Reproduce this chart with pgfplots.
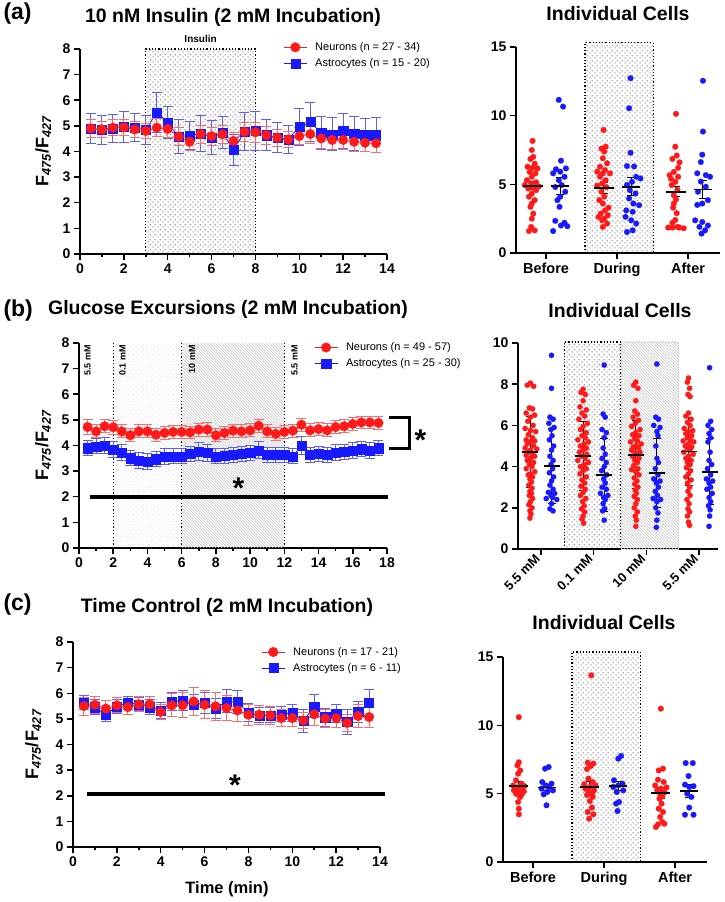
\documentclass[border=0pt]{standalone}
\usepackage{fontspec}
\setmainfont{Liberation Sans}
\usepackage{pgfplots}
\pgfplotsset{compat=1.18}
\usetikzlibrary{patterns}

\definecolor{nred}{RGB}{255,25,25}
\definecolor{ablue}{RGB}{25,25,255}

% staggered dot pattern, a bit sparser than crosshatch dots
\pgfdeclarepatternformonly{sdots}{\pgfqpoint{0pt}{0pt}}{\pgfqpoint{4.6pt}{4.6pt}}{\pgfqpoint{4.6pt}{4.6pt}}{
  \pgfpathcircle{\pgfqpoint{1.15pt}{1.15pt}}{0.6pt}
  \pgfpathcircle{\pgfqpoint{3.45pt}{3.45pt}}{0.6pt}
  \pgfusepath{fill}}

\pgfplotsset{
  panel/.style={scale only axis, clip=false, axis lines=left,
    axis line style={line width=1.8pt,-}, tick style={line width=1.5pt,black},
    major tick length=6pt, minor tick length=3.5pt, tick align=outside,
    /pgf/number format/assume math mode=true,
    tick label style={font=\bfseries\fontsize{14}{14}\selectfont}},
  timeax/.style={panel, ymin=0, ymax=8, ytick={0,...,8}, minor x tick num=1,
    ylabel={F\textsubscript{\itshape 475}/F\textsubscript{\itshape 427}},
    ylabel style={font=\bfseries\fontsize{18}{18}\selectfont, anchor=center},
    legend cell align=left, reverse legend,
    legend style={draw=none, fill=none, anchor=north west, inner sep=0pt,
      font=\fontsize{11}{12}\selectfont, row sep=2.5pt, column sep=6pt},
    legend image code/.code={\draw[mark repeat=2,mark phase=2,##1] plot coordinates {(0pt,0pt) (11.5pt,0pt) (23pt,0pt)};}},
  cellax/.style={panel, xmin=0.577, xmax=3.45, ymin=0, ymax=15, ytick={0,5,10,15},
    xtick={1,2,3}, xticklabels={Before,During,After},
    xticklabel style={font=\bfseries\fontsize{14.5}{14.5}\selectfont}},
  neur/.style={nred, line width=0.8pt, mark=*, mark size=4.8pt,
    mark options={solid, fill=nred, draw=nred, line width=0.3pt},
    error bars/.cd, y dir=both, y explicit, error bar style={line width=1pt, nred!65},
    error mark options={rotate=90, line width=1pt, nred!65, mark size=5pt}},
  astr/.style={ablue, line width=0.8pt, mark=square*, mark size=4.6pt,
    mark options={solid, fill=ablue, draw=ablue, line width=0.3pt},
    error bars/.cd, y dir=both, y explicit, error bar style={line width=1pt, ablue!70},
    error mark options={rotate=90, line width=1pt, ablue!70, mark size=5pt}},
  rdots/.style={only marks, mark=*, mark size=2.9pt, mark options={fill=nred, draw=nred, line width=0.1pt}},
  bdots/.style={only marks, mark=*, mark size=2.9pt, mark options={fill=ablue, draw=ablue, line width=0.1pt}},
  meanbar/.style={only marks, mark=-, mark size=#1, mark options={black, line width=1.8pt},
    error bars/.cd, y dir=both, y explicit, error bar style={line width=1pt, black},
    error mark options={rotate=90, black, line width=1pt, mark size=4pt}},
}

\begin{document}
\begin{tikzpicture}
\path[use as bounding box] (0pt,0pt) rectangle (725pt,902pt);

% ---------- titles ----------
\node[anchor=west, font=\bfseries\fontsize{23}{23}\selectfont] at (0pt,888pt) {(a)};
\node[anchor=base, font=\bfseries\fontsize{19.5}{19.5}\selectfont] at (233pt,879pt) {10 nM Insulin (2 mM Incubation)};
\node[anchor=base, font=\bfseries\fontsize{19.5}{19.5}\selectfont] at (618pt,881pt) {Individual Cells};
\node[anchor=west, font=\bfseries\fontsize{23}{23}\selectfont] at (0pt,591pt) {(b)};
\node[anchor=base, font=\bfseries\fontsize{19.5}{19.5}\selectfont] at (228pt,587pt) {Glucose Excursions (2 mM Incubation)};
\node[anchor=base, font=\bfseries\fontsize{19.5}{19.5}\selectfont] at (620pt,584pt) {Individual Cells};
\node[anchor=west, font=\bfseries\fontsize{23}{23}\selectfont] at (0pt,297pt) {(c)};
\node[anchor=base, font=\bfseries\fontsize{19.5}{19.5}\selectfont] at (227pt,289pt) {Time Control (2 mM Incubation)};
\node[anchor=base, font=\bfseries\fontsize{19.5}{19.5}\selectfont] at (604pt,272pt) {Individual Cells};
\node[anchor=base, font=\bfseries\fontsize{16.5}{16.5}\selectfont] at (227pt,9pt) {Time (min)};

% ---------- (a) time course ----------
\begin{axis}[timeax, at={(80pt,648pt)}, anchor=south west, width=307pt, height=205pt,
  xmin=0, xmax=14, xtick={0,2,...,14},
  ylabel style={at={(axis description cs:-0.12,0.5)}},
  legend style={at={(axis description cs:0.662,1.042)}}]
\fill[pattern=sdots, pattern color=black!85] (axis cs:3,0) rectangle (axis cs:8,8);
\draw[line width=1.2pt, dash pattern=on 1.2pt off 2pt] (axis cs:3,0) rectangle (axis cs:8,8);
\node[anchor=base, font=\bfseries\fontsize{10}{10}\selectfont] at (axis cs:5.5,8.27) {Insulin};
\addplot[astr] coordinates {
 (0.5,4.90) +- (0,0.60) (1.0,4.84) +- (0,0.58) (1.5,4.90) +- (0,0.55) (2.0,4.97) +- (0,0.60)
 (2.5,4.93) +- (0,0.55) (3.0,4.84) +- (0,0.58) (3.5,5.53) +- (0,0.78) (4.0,5.12) +- (0,0.62)
 (4.5,4.58) +- (0,0.65) (5.0,4.62) +- (0,0.55) (5.5,4.71) +- (0,0.70) (6.0,4.55) +- (0,0.65)
 (6.5,4.73) +- (0,0.62) (7.0,4.06) +- (0,0.60) (7.5,4.77) +- (0,0.75) (8.0,4.80) +- (0,0.75)
 (8.5,4.64) +- (0,0.62) (9.0,4.55) +- (0,0.60) (9.5,4.47) +- (0,0.55) (10.0,4.97) +- (0,0.72)
 (10.5,5.15) +- (0,0.77) (11.0,4.73) +- (0,0.65) (11.5,4.67) +- (0,0.65) (12.0,4.80) +- (0,0.70)
 (12.5,4.71) +- (0,0.67) (13.0,4.64) +- (0,0.65) (13.5,4.64) +- (0,0.68)};
\addlegendentry{Astrocytes (n = 15 - 20)}
\addplot[neur] coordinates {
 (0.5,4.90) +- (0,0.35) (1.0,4.86) +- (0,0.30) (1.5,4.93) +- (0,0.30) (2.0,4.94) +- (0,0.30)
 (2.5,4.86) +- (0,0.30) (3.0,4.80) +- (0,0.30) (3.5,4.93) +- (0,0.35) (4.0,4.88) +- (0,0.35)
 (4.5,4.58) +- (0,0.35) (5.0,4.38) +- (0,0.33) (5.5,4.68) +- (0,0.35) (6.0,4.60) +- (0,0.35)
 (6.5,4.67) +- (0,0.35) (7.0,4.41) +- (0,0.35) (7.5,4.77) +- (0,0.38) (8.0,4.75) +- (0,0.38)
 (8.5,4.64) +- (0,0.35) (9.0,4.54) +- (0,0.33) (9.5,4.47) +- (0,0.30) (10.0,4.60) +- (0,0.33)
 (10.5,4.68) +- (0,0.35) (11.0,4.51) +- (0,0.38) (11.5,4.45) +- (0,0.38) (12.0,4.45) +- (0,0.38)
 (12.5,4.38) +- (0,0.38) (13.0,4.34) +- (0,0.35) (13.5,4.32) +- (0,0.36)};
\addlegendentry{Neurons (n = 27 - 34)}
\end{axis}

% ---------- (a) individual cells ----------
\begin{axis}[cellax, at={(516pt,649pt)}, anchor=south west, width=204pt, height=206pt]
\fill[pattern=sdots, pattern color=black!85] (axis cs:1.55,0) rectangle (axis cs:2.51,15.3);
\draw[line width=1.2pt, dash pattern=on 1.2pt off 2pt] (axis cs:1.55,0) rectangle (axis cs:2.51,15.3);
\addplot[rdots] coordinates {
 (0.81,8.16)(0.80,7.50)(0.82,7.00)(0.78,6.85)(0.84,6.50)(0.74,6.28)(0.81,6.20)(0.88,6.15)
 (0.77,5.90)(0.85,5.80)(0.80,5.55)(0.73,5.30)(0.86,5.15)(0.79,5.06)(0.70,4.95)(0.90,4.85)
 (0.82,4.80)(0.75,4.70)(0.86,4.58)(0.80,4.33)(0.76,4.10)(0.84,3.85)(0.80,3.60)(0.78,3.36)
 (0.82,2.87)(0.80,2.50)(0.79,1.90)(0.84,1.65)(0.76,1.60)
 (1.81,8.96)(1.84,7.74)(1.78,7.60)(1.82,7.38)(1.80,6.90)(1.86,6.53)(1.76,6.28)(1.83,6.04)
 (1.72,5.92)(1.90,5.80)(1.80,5.80)(1.76,5.55)(1.84,5.30)(1.79,5.06)(1.72,4.90)(1.85,4.80)
 (1.78,4.46)(1.82,4.10)(1.75,3.85)(1.80,3.60)(1.88,3.30)(1.83,3.10)(1.77,2.87)(1.87,2.75)
 (1.74,2.63)(1.82,2.50)(1.79,2.38)(1.86,2.14)(1.80,1.90)
 (2.83,10.13)(2.82,7.74)(2.84,7.10)(2.78,6.85)(2.88,6.60)(2.86,6.20)(2.80,5.90)(2.74,5.67)
 (2.86,5.55)(2.76,5.40)(2.82,5.18)(2.77,4.95)(2.85,4.60)(2.80,4.20)(2.83,3.90)(2.80,3.60)
 (2.79,3.30)(2.84,2.90)(2.82,2.40)(2.78,2.20)(2.85,1.90)(2.72,1.85)(2.78,1.85)(2.88,1.85)(2.94,1.80)};
\addplot[bdots] coordinates {
 (1.18,11.15)(1.24,10.66)(1.21,6.72)(1.28,6.16)(1.14,6.10)(1.20,5.92)(1.10,5.80)(1.26,5.55)
 (1.18,5.30)(1.22,4.95)(1.13,4.80)(1.27,4.46)(1.20,4.10)(1.16,3.85)(1.19,3.36)(1.13,2.34)
 (1.26,2.20)(1.21,2.00)(1.30,1.95)(1.10,1.60)
 (2.19,12.73)(2.17,10.54)(2.19,7.30)(2.14,6.33)(2.24,6.30)(2.27,5.55)(2.33,5.43)(2.21,5.18)
 (2.14,4.95)(2.18,4.58)(2.26,4.33)(2.17,3.97)(2.23,3.60)(2.31,3.48)(2.13,3.10)(2.22,3.00)
 (2.12,2.63)(2.20,2.38)(2.27,2.14)(2.22,1.65)(2.14,1.53)
 (3.21,12.54)(3.21,8.84)(3.20,7.16)(3.18,6.62)(3.13,5.80)(3.25,5.67)(3.31,5.55)(3.18,5.20)
 (3.25,4.82)(3.14,4.46)(3.28,3.85)(3.20,3.60)(3.13,3.50)(3.10,2.38)(3.20,2.26)(3.28,2.00)
 (3.16,1.90)(3.24,1.65)(3.19,1.41)};
\addplot[meanbar=10pt] coordinates {(0.81,4.89) +- (0,0.30) (1.81,4.75) +- (0,0.40) (2.83,4.46) +- (0,0.38)};
\addplot[meanbar=9pt] coordinates {(1.20,4.89) +- (0,0.60) (2.20,4.82) +- (0,0.65) (3.21,4.63) +- (0,0.68)};
\end{axis}

% ---------- (b) time course ----------
\begin{axis}[timeax, at={(79pt,354pt)}, anchor=south west, width=308pt, height=205pt,
  xmin=0, xmax=18, xtick={0,2,...,18},
  ylabel style={at={(axis description cs:-0.117,0.5)}},
  legend style={at={(axis description cs:0.763,1.012)}}]
\fill[pattern=sdots, pattern color=gray!45] (axis cs:2,0) rectangle (axis cs:6,8);
\fill[pattern=north west lines, pattern color=gray!45] (axis cs:6,0) rectangle (axis cs:12,8);
\draw[line width=1.2pt, dash pattern=on 1.2pt off 2.2pt] (axis cs:2,0) -- (axis cs:2,8);
\draw[line width=1.2pt, dash pattern=on 1.2pt off 2.2pt] (axis cs:6,0) -- (axis cs:6,8);
\draw[line width=1.2pt, dash pattern=on 1.2pt off 2.2pt] (axis cs:12,0) -- (axis cs:12,8);
\node[rotate=90, anchor=east, font=\bfseries\fontsize{9}{9}\selectfont] at (axis cs:0.5,8.05) {5.5 mM};
\node[rotate=90, anchor=east, font=\bfseries\fontsize{9}{9}\selectfont] at (axis cs:2.55,8.05) {0.1 mM};
\node[rotate=90, anchor=east, font=\bfseries\fontsize{9}{9}\selectfont] at (axis cs:6.6,8.05) {10 mM};
\node[rotate=90, anchor=east, font=\bfseries\fontsize{9}{9}\selectfont] at (axis cs:12.6,8.05) {5.5 mM};
\draw[line width=4pt] (axis cs:0.64,2) -- (axis cs:18.05,2);
\node[anchor=base, yshift=-17pt, font=\bfseries\fontsize{30}{30}\selectfont] at (axis cs:9.32,2.6) {*};
\draw[line width=2.8pt] (axis cs:18.1,5.08) -- (axis cs:19.3,5.08) -- (axis cs:19.3,3.87) -- (axis cs:18.1,3.87);
\node[anchor=base, yshift=-17pt, font=\bfseries\fontsize{30}{30}\selectfont] at (axis cs:19.95,4.45) {*};
\addplot[astr] coordinates {
 (0.5,3.90) +- (0,0.30) (1.0,3.97) +- (0,0.30) (1.5,3.99) +- (0,0.32) (2.0,3.84) +- (0,0.30)
 (2.5,3.73) +- (0,0.30) (3.0,3.51) +- (0,0.30) (3.5,3.42) +- (0,0.30) (4.0,3.38) +- (0,0.30)
 (4.5,3.47) +- (0,0.30) (5.0,3.58) +- (0,0.32) (5.5,3.58) +- (0,0.30) (6.0,3.58) +- (0,0.30)
 (6.5,3.67) +- (0,0.30) (7.0,3.77) +- (0,0.35) (7.5,3.71) +- (0,0.32) (8.0,3.58) +- (0,0.30)
 (8.5,3.60) +- (0,0.30) (9.0,3.64) +- (0,0.30) (9.5,3.68) +- (0,0.30) (10.0,3.71) +- (0,0.30)
 (10.5,3.81) +- (0,0.33) (11.0,3.64) +- (0,0.30) (11.5,3.64) +- (0,0.30) (12.0,3.64) +- (0,0.30)
 (12.5,3.58) +- (0,0.30) (13.0,3.99) +- (0,0.35) (13.5,3.64) +- (0,0.30) (14.0,3.68) +- (0,0.30)
 (14.5,3.64) +- (0,0.30) (15.0,3.73) +- (0,0.30) (15.5,3.75) +- (0,0.30) (16.0,3.81) +- (0,0.30)
 (16.5,3.86) +- (0,0.30) (17.0,3.81) +- (0,0.30) (17.5,3.90) +- (0,0.30)};
\addlegendentry{Astrocytes (n = 25 - 30)}
\addplot[neur] coordinates {
 (0.5,4.72) +- (0,0.28) (1.0,4.55) +- (0,0.25) (1.5,4.75) +- (0,0.25) (2.0,4.71) +- (0,0.27)
 (2.5,4.55) +- (0,0.25) (3.0,4.40) +- (0,0.25) (3.5,4.55) +- (0,0.25) (4.0,4.55) +- (0,0.25)
 (4.5,4.42) +- (0,0.25) (5.0,4.49) +- (0,0.25) (5.5,4.53) +- (0,0.25) (6.0,4.53) +- (0,0.25)
 (6.5,4.51) +- (0,0.25) (7.0,4.62) +- (0,0.25) (7.5,4.62) +- (0,0.27) (8.0,4.40) +- (0,0.25)
 (8.5,4.49) +- (0,0.25) (9.0,4.58) +- (0,0.25) (9.5,4.55) +- (0,0.25) (10.0,4.59) +- (0,0.25)
 (10.5,4.77) +- (0,0.25) (11.0,4.55) +- (0,0.25) (11.5,4.45) +- (0,0.25) (12.0,4.53) +- (0,0.25)
 (12.5,4.58) +- (0,0.25) (13.0,4.81) +- (0,0.25) (13.5,4.59) +- (0,0.25) (14.0,4.64) +- (0,0.25)
 (14.5,4.59) +- (0,0.25) (15.0,4.72) +- (0,0.25) (15.5,4.75) +- (0,0.25) (16.0,4.84) +- (0,0.25)
 (16.5,4.90) +- (0,0.25) (17.0,4.90) +- (0,0.25) (17.5,4.88) +- (0,0.25)};
\addlegendentry{Neurons (n = 49 - 57)}
\end{axis}

% ---------- (b) individual cells ----------
\begin{axis}[panel, at={(518pt,353pt)}, anchor=south west, width=200pt, height=206pt,
  xmin=0.564, xmax=4.36, ymin=0, ymax=10, ytick={0,2,...,10},
  xtick={1,2,3,4}, xticklabels={5.5 mM,0.1 mM,10 mM,5.5 mM},
  xticklabel style={rotate=45, anchor=east, yshift=1pt,
    font=\bfseries\fontsize{13}{13}\selectfont}]
\fill[pattern=sdots, pattern color=black!85] (axis cs:1.44,0) rectangle (axis cs:2.52,10.05);
\draw[line width=1.2pt, dash pattern=on 1.2pt off 2pt] (axis cs:1.44,0) rectangle (axis cs:2.52,10.05);
\fill[pattern=north west lines, pattern color=gray!45] (axis cs:2.52,0) rectangle (axis cs:3.6,10.05);
\draw[gray!30, line width=0.8pt] (axis cs:2.52,0) rectangle (axis cs:3.6,10.05);
\addplot[rdots, mark size=2.7pt] coordinates {
 (0.80,8.05)(0.74,7.95)(0.86,7.90)(0.78,6.85)(0.84,6.80)(0.72,6.60)(0.88,6.50)(0.80,6.40)
 (0.75,6.20)(0.85,6.00)(0.70,5.85)(0.80,5.75)(0.90,5.70)(0.76,5.55)(0.84,5.40)(0.72,5.30)
 (0.88,5.25)(0.80,5.20)(0.74,5.10)(0.86,5.00)(0.70,4.90)(0.92,4.85)(0.80,4.80)(0.76,4.70)
 (0.84,4.60)(0.72,4.55)(0.88,4.50)(0.80,4.40)(0.74,4.30)(0.86,4.20)(0.78,4.10)(0.83,4.00)
 (0.72,3.90)(0.88,3.75)(0.80,3.65)(0.76,3.60)(0.84,3.50)(0.79,3.40)(0.82,3.25)(0.77,3.10)
 (0.83,2.95)(0.79,2.80)(0.82,2.70)(0.78,2.60)(0.84,2.45)(0.80,2.30)(0.77,2.15)(0.83,2.00)
 (0.79,1.85)(0.81,1.70)(0.79,1.50)
 (1.80,7.75)(1.76,7.60)(1.84,7.50)(1.80,7.20)(1.74,6.90)(1.86,6.75)(1.78,6.60)(1.83,6.45)
 (1.72,6.30)(1.88,6.10)(1.80,5.95)(1.75,5.80)(1.86,5.65)(1.78,5.50)(1.84,5.40)(1.70,5.30)
 (1.90,5.20)(1.82,5.10)(1.75,5.00)(1.86,4.90)(1.80,4.80)(1.73,4.70)(1.87,4.60)(1.77,4.50)
 (1.84,4.40)(1.70,4.30)(1.90,4.20)(1.82,4.10)(1.75,4.00)(1.86,3.90)(1.80,3.80)(1.74,3.65)
 (1.86,3.50)(1.78,3.35)(1.83,3.20)(1.76,3.05)(1.84,2.90)(1.80,2.75)(1.75,2.60)(1.85,2.45)
 (1.79,2.30)(1.82,2.10)(1.77,1.95)(1.83,1.80)(1.80,1.60)(1.78,1.45)(1.81,1.25)
 (2.80,8.10)(2.76,7.95)(2.84,7.80)(2.80,7.20)(2.78,6.70)(2.83,6.55)(2.75,6.40)(2.85,6.25)
 (2.79,6.10)(2.72,5.95)(2.88,5.80)(2.80,5.65)(2.74,5.55)(2.86,5.50)(2.78,5.35)(2.83,5.25)
 (2.70,5.20)(2.90,5.10)(2.80,5.00)(2.75,4.95)(2.85,4.90)(2.72,4.80)(2.88,4.70)(2.79,4.65)
 (2.83,4.60)(2.74,4.50)(2.86,4.40)(2.78,4.30)(2.83,4.20)(2.76,4.05)(2.84,3.90)(2.72,3.85)
 (2.80,3.75)(2.86,3.60)(2.77,3.45)(2.82,3.30)(2.78,3.15)(2.84,3.00)(2.79,2.85)(2.81,2.70)
 (2.77,2.55)(2.83,2.40)(2.80,2.20)(2.77,2.00)(2.83,1.80)(2.79,1.60)(2.81,1.40)(2.80,1.10)
 (3.80,8.30)(3.78,8.10)(3.82,7.80)(3.79,7.50)(3.83,7.40)(3.80,6.60)(3.75,6.45)(3.85,6.30)
 (3.78,6.15)(3.83,6.00)(3.72,5.85)(3.88,5.75)(3.80,5.70)(3.75,5.60)(3.86,5.50)(3.78,5.40)
 (3.83,5.30)(3.70,5.25)(3.90,5.20)(3.80,5.10)(3.74,5.00)(3.86,4.95)(3.78,4.90)(3.83,4.80)
 (3.71,4.70)(3.89,4.60)(3.80,4.50)(3.75,4.40)(3.85,4.30)(3.78,4.20)(3.83,4.10)(3.76,3.95)
 (3.84,3.80)(3.80,3.65)(3.75,3.50)(3.85,3.35)(3.78,3.20)(3.82,3.00)(3.79,2.80)(3.83,2.60)
 (3.77,2.40)(3.81,2.20)(3.79,1.95)(3.82,1.80)(3.78,1.60)(3.80,1.30)(3.82,1.15)};
\addplot[bdots, mark size=2.7pt] coordinates {
 (1.20,9.40)(1.20,7.80)(1.17,6.40)(1.23,6.30)(1.15,6.10)(1.25,5.90)(1.19,5.80)(1.21,5.50)
 (1.16,5.30)(1.24,5.00)(1.20,4.80)(1.17,4.50)(1.23,4.30)(1.19,4.10)(1.22,3.90)(1.16,3.70)
 (1.24,3.50)(1.20,3.30)(1.17,3.10)(1.23,2.90)(1.14,2.75)(1.26,2.70)(1.19,2.60)(1.22,2.50)
 (1.10,2.45)(1.30,2.40)(1.20,2.20)(1.17,1.95)(1.23,1.85)
 (2.20,8.93)(2.18,6.55)(2.22,6.40)(2.16,5.80)(2.24,5.65)(2.20,5.40)(2.18,4.90)(2.22,4.60)
 (2.16,4.40)(2.24,4.20)(2.20,4.00)(2.15,3.80)(2.25,3.60)(2.19,3.40)(2.22,3.20)(2.16,3.00)
 (2.24,2.90)(2.13,2.70)(2.27,2.60)(2.19,2.50)(2.22,2.40)(2.18,2.20)(2.21,1.95)(2.17,1.85)(2.20,1.40)
 (3.20,8.98)(3.18,6.40)(3.23,6.30)(3.14,6.00)(3.26,5.90)(3.20,5.70)(3.22,5.50)(3.18,5.00)
 (3.20,4.40)(3.23,4.20)(3.17,3.90)(3.22,3.60)(3.14,3.40)(3.26,3.30)(3.19,3.20)(3.23,3.00)
 (3.17,2.80)(3.21,2.60)(3.13,2.45)(3.27,2.40)(3.20,2.30)(3.18,2.00)(3.22,1.75)(3.20,1.40)(3.19,1.05)
 (4.20,8.80)(4.22,6.20)(4.17,6.00)(4.24,5.80)(4.19,5.60)(4.22,5.40)(4.17,5.20)(4.21,4.70)
 (4.19,4.30)(4.24,4.10)(4.16,3.90)(4.22,3.60)(4.14,3.40)(4.26,3.30)(4.19,3.20)(4.22,3.00)
 (4.15,2.90)(4.25,2.70)(4.19,2.50)(4.22,2.30)(4.18,2.10)(4.21,1.90)(4.20,1.60)(4.19,1.10)};
\addplot[meanbar=8pt] coordinates {(0.80,4.70) +- (0,1.72) (1.80,4.50) +- (0,1.68) (2.80,4.57) +- (0,1.65) (3.80,4.73) +- (0,1.67)};
\addplot[meanbar=8pt] coordinates {(1.20,4.03) +- (0,1.82) (2.20,3.58) +- (0,1.77) (3.20,3.68) +- (0,1.68) (4.20,3.75) +- (0,1.60)};
\end{axis}

% ---------- (c) time course ----------
\begin{axis}[timeax, at={(73pt,55pt)}, anchor=south west, width=307pt, height=205pt,
  xmin=0, xmax=14, xtick={0,2,...,14},
  ylabel style={at={(axis description cs:-0.13,0.5)}},
  legend style={at={(axis description cs:0.613,0.985)}}]
\draw[line width=4pt] (axis cs:0.64,2.08) -- (axis cs:14.23,2.08);
\node[anchor=base, yshift=-17pt, font=\bfseries\fontsize{30}{30}\selectfont] at (axis cs:7.39,2.67) {*};
\addplot[astr] coordinates {
 (0.5,5.63) +- (0,0.28) (1.0,5.46) +- (0,0.28) (1.5,5.16) +- (0,0.25) (2.0,5.49) +- (0,0.28)
 (2.5,5.63) +- (0,0.25) (3.0,5.57) +- (0,0.25) (3.5,5.46) +- (0,0.28) (4.0,5.33) +- (0,0.30)
 (4.5,5.66) +- (0,0.35) (5.0,5.72) +- (0,0.38) (5.5,5.55) +- (0,0.40) (6.0,5.62) +- (0,0.40)
 (6.5,5.40) +- (0,0.40) (7.0,5.68) +- (0,0.45) (7.5,5.66) +- (0,0.45) (8.0,5.24) +- (0,0.35)
 (8.5,5.14) +- (0,0.30) (9.0,5.14) +- (0,0.30) (9.5,5.18) +- (0,0.30) (10.0,5.23) +- (0,0.35)
 (10.5,4.92) +- (0,0.45) (11.0,5.49) +- (0,0.45) (11.5,5.07) +- (0,0.35) (12.0,5.20) +- (0,0.35)
 (12.5,4.88) +- (0,0.50) (13.0,5.27) +- (0,0.40) (13.5,5.63) +- (0,0.50)};
\addlegendentry{Astrocytes (n = 6 - 11)}
\addplot[neur] coordinates {
 (0.5,5.50) +- (0,0.35) (1.0,5.55) +- (0,0.33) (1.5,5.40) +- (0,0.30) (2.0,5.53) +- (0,0.30)
 (2.5,5.46) +- (0,0.30) (3.0,5.57) +- (0,0.30) (3.5,5.57) +- (0,0.30) (4.0,5.27) +- (0,0.30)
 (4.5,5.53) +- (0,0.45) (5.0,5.53) +- (0,0.48) (5.5,5.68) +- (0,0.55) (6.0,5.55) +- (0,0.55)
 (6.5,5.49) +- (0,0.55) (7.0,5.42) +- (0,0.50) (7.5,5.33) +- (0,0.45) (8.0,5.16) +- (0,0.40)
 (8.5,5.16) +- (0,0.38) (9.0,5.14) +- (0,0.35) (9.5,5.03) +- (0,0.33) (10.0,5.03) +- (0,0.33)
 (10.5,4.94) +- (0,0.30) (11.0,5.18) +- (0,0.45) (11.5,5.01) +- (0,0.35) (12.0,5.03) +- (0,0.35)
 (12.5,4.84) +- (0,0.35) (13.0,5.11) +- (0,0.45) (13.5,5.07) +- (0,0.40)};
\addlegendentry{Neurons (n = 17 - 21)}
\end{axis}

% ---------- (c) individual cells ----------
\begin{axis}[cellax, at={(503pt,40pt)}, anchor=south west, width=204pt, height=205pt]
\fill[pattern=sdots, pattern color=black!85] (axis cs:1.55,0) rectangle (axis cs:2.51,15.37);
\draw[line width=1.2pt, dash pattern=on 1.2pt off 2pt] (axis cs:1.55,0) rectangle (axis cs:2.51,15.37);
\addplot[rdots] coordinates {
 (0.80,10.60)(0.80,7.30)(0.78,7.07)(0.82,6.70)(0.79,6.46)(0.76,5.98)(0.84,5.73)(0.72,5.60)
 (0.88,5.55)(0.80,5.50)(0.75,5.37)(0.85,5.30)(0.73,5.24)(0.87,5.15)(0.80,5.12)(0.76,5.00)
 (0.84,4.95)(0.80,4.88)(0.82,4.76)(0.79,4.39)(0.80,3.90)(0.80,3.49)
 (1.82,13.66)(1.77,7.27)(1.85,7.20)(1.81,7.02)(1.76,6.80)(1.78,6.10)(1.84,5.85)(1.72,5.70)
 (1.88,5.60)(1.80,5.49)(1.74,5.35)(1.86,5.24)(1.79,5.12)(1.83,5.00)(1.76,4.90)(1.84,4.76)
 (1.80,4.46)(1.83,3.98)(1.77,3.66)(1.85,3.49)(1.79,3.17)
 (2.80,11.22)(2.83,6.83)(2.77,6.70)(2.76,6.02)(2.84,5.85)(2.72,5.60)(2.88,5.45)(2.80,5.37)
 (2.75,5.24)(2.85,5.10)(2.79,5.00)(2.82,4.80)(2.78,4.63)(2.81,4.27)(2.77,3.90)(2.83,3.66)
 (2.79,3.29)(2.82,2.93)(2.85,2.80)(2.76,2.75)(2.73,2.56)};
\addplot[bdots] coordinates {
 (1.22,6.95)(1.17,6.83)(1.13,5.85)(1.26,5.73)(1.18,5.60)(1.22,5.49)(1.12,5.37)(1.28,5.24)
 (1.20,5.12)(1.15,4.95)(1.19,4.15)
 (2.24,7.76)(2.20,7.56)(2.14,5.98)(2.26,5.73)(2.20,5.60)(2.13,5.49)(2.27,5.24)(2.18,5.12)
 (2.21,4.39)(2.17,4.27)(2.19,3.73)
 (3.15,7.24)(3.25,7.24)(3.19,6.29)(3.14,5.66)(3.26,5.55)(3.20,5.49)(3.17,5.00)(3.23,4.76)
 (3.20,3.98)(3.14,3.46)(3.26,3.46)};
\addplot[meanbar=9.5pt] coordinates {(0.80,5.55) +- (0,0.33) (1.80,5.50) +- (0,0.42) (2.80,5.05) +- (0,0.40)};
\addplot[meanbar=9pt] coordinates {(1.20,5.45) +- (0,0.25) (2.20,5.55) +- (0,0.35) (3.20,5.20) +- (0,0.45)};
\end{axis}
\end{tikzpicture}
\end{document}
